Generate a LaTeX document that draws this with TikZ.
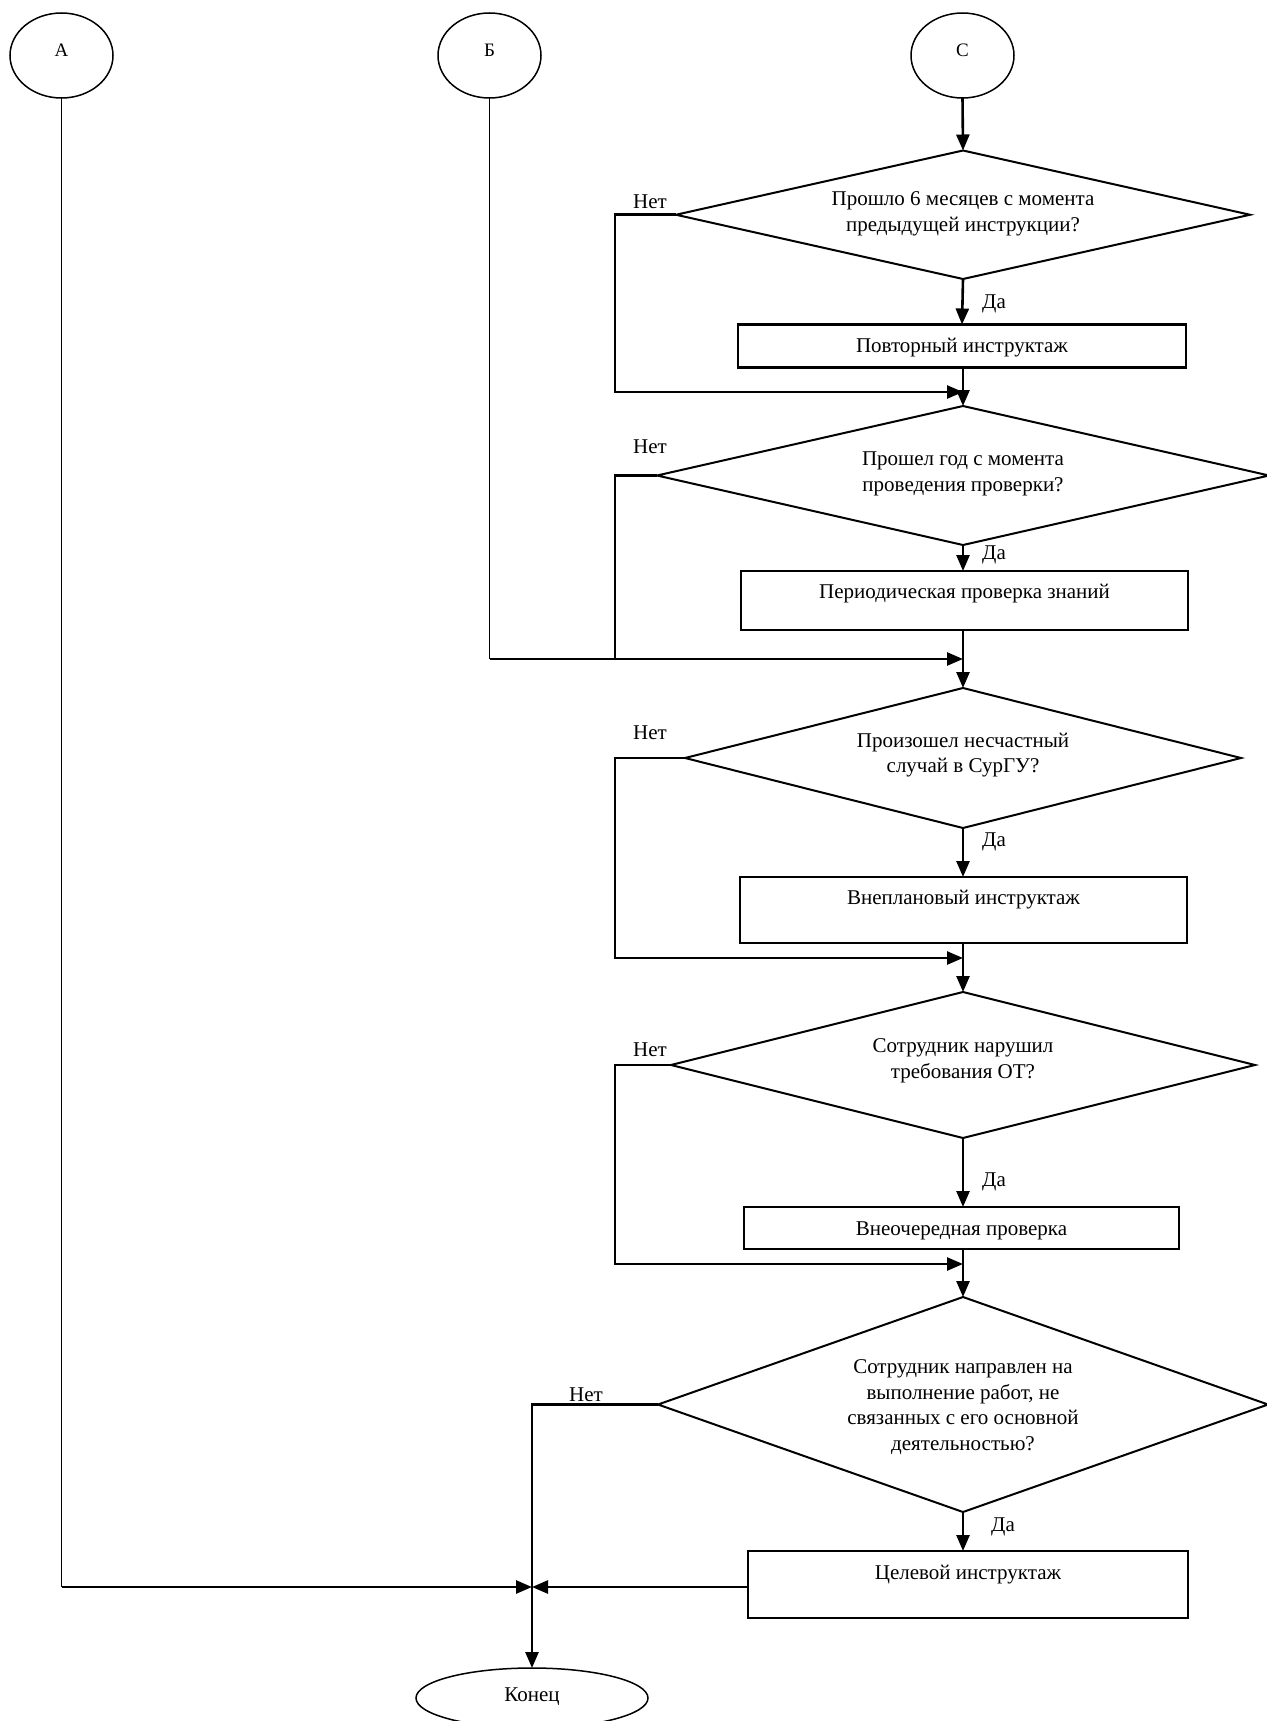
\documentclass[tikz,border=0pt]{standalone}
\usepackage{fontspec}
\setmainfont{Liberation Serif}
\usetikzlibrary{shapes.geometric,arrows.meta}
\begin{document}
\begin{tikzpicture}[x=1pt,y=-1pt,
  txt/.style={font=\fontsize{21}{25.5}\selectfont, align=center, inner sep=0},
  lbl/.style={font=\fontsize{21}{25.5}\selectfont, inner sep=0},
  dia/.style={draw, diamond, line width=2pt, inner sep=0, outer sep=0},
  boxn/.style={draw, rectangle, line width=2.3pt, inner sep=0, outer sep=0},
  ovl/.style={draw, ellipse, line width=1.5pt, inner sep=0, outer sep=0},
  conn/.style={line width=2.6pt},
  thinconn/.style={line width=1.4pt},
  arr/.style={-{Triangle[length=16pt,width=13pt]}}
]
\useasboundingbox (0,0) rectangle (1266,1721);
\fill[white] (0,0) rectangle (1266,1721);

% start ovals
\node[ovl, minimum width=103pt, minimum height=85pt] (A) at (61.5,55.5) {};
\node[ovl, minimum width=103pt, minimum height=85pt] (B) at (489.5,55.5) {};
\node[ovl, minimum width=103pt, minimum height=85pt] (C) at (962.5,55.5) {};
\node[lbl, font=\fontsize{19}{22}\selectfont] (tA) at (61.5,50) {А};
\node[lbl, font=\fontsize{19}{22}\selectfont] (tB) at (489.5,50) {Б};
\node[lbl, font=\fontsize{19}{22}\selectfont] (tC) at (962.5,50) {С};

% diamonds
\node[dia, minimum width=574pt, minimum height=128.5pt] (d1) at (963,214.75) {};
\node[txt] (t1) at (963,214) {Прошло 6 месяцев с момента\\предыдущей инструкции?};
\node[dia, minimum width=612pt, minimum height=139pt] (d2) at (963,475.5) {};
\node[txt] (t2) at (963,474) {Прошел год с момента\\проведения проверки?};
\node[dia, minimum width=556pt, minimum height=140pt] (d3) at (963,758) {};
\node[txt] (t3) at (963,755) {Произошел несчастный\\случай в СурГУ?};
\node[dia, minimum width=584pt, minimum height=146pt] (d4) at (963,1065) {};
\node[txt] (t4) at (963,1061) {Сотрудник нарушил\\требования ОТ?};
\node[dia, minimum width=610pt, minimum height=215pt] (d5) at (963,1404.5) {};
\node[txt] (t5) at (963,1407) {Сотрудник направлен на\\выполнение работ, не\\связанных с его основной\\деятельностью?};

% boxes
\node[boxn, minimum width=448pt, minimum height=43pt] (b1) at (962,346) {};
\node[txt] (bt1) at (962,348) {Повторный инструктаж};
\node[boxn, minimum width=447pt, minimum height=59pt] (b2) at (964.5,600.5) {};
\node[txt] (bt2) at (964.5,594) {Периодическая проверка знаний};
\node[boxn, minimum width=447pt, minimum height=66pt] (b3) at (963.5,910) {};
\node[txt] (bt3) at (963.5,900) {Внеплановый инструктаж};
\node[boxn, minimum width=435pt, minimum height=42pt] (b4) at (961.5,1228) {};
\node[txt] (bt4) at (961.5,1231) {Внеочередная проверка};
\node[boxn, minimum width=440pt, minimum height=67pt] (b5) at (968,1584.5) {};
\node[txt] (bt5) at (968,1575) {Целевой инструктаж};

% end oval
\node[ovl, minimum width=232pt, minimum height=60pt] (end) at (532,1698) {};
\node[lbl] (tend) at (532,1697) {Конец};

% labels
\node[lbl] (n1) at (650,202) {Нет};
\node[lbl] (n2) at (650,447) {Нет};
\node[lbl] (n3) at (650,733) {Нет};
\node[lbl] (n4) at (650,1050) {Нет};
\node[lbl] (n5) at (586,1395) {Нет};
\node[lbl] (y1) at (994,304) {Да};
\node[lbl] (y2) at (994,555) {Да};
\node[lbl] (y3) at (994,842) {Да};
\node[lbl] (y4) at (994,1182) {Да};
\node[lbl] (y5) at (1003,1527) {Да};

% helper coordinates
\coordinate (m1) at (963,392);
\coordinate (m2) at (963,659);
\coordinate (m3) at (963,958);
\coordinate (m4) at (963,1264);
\coordinate (mend) at (532,1587);
\coordinate (aC) at (61.5,1587);
\coordinate (bC) at (489.5,659);

% main line
\draw[conn,arr] (C.south) -- (d1.north);
\draw[conn,arr] (d1.south) -- (b1.north);
\draw[conn,arr] (b1.south -| d2.north) -- (d2.north);
\draw[conn,arr] (d2.south) -- (b2.north -| d2.south);
\draw[conn,arr] (b2.south -| d3.north) -- (d3.north);
\draw[conn,arr] (d3.south) -- (b3.north -| d3.south);
\draw[conn,arr] (b3.south -| d4.north) -- (d4.north);
\draw[conn,arr] (d4.south) -- (b4.north -| d4.south);
\draw[conn,arr] (b4.south -| d5.north) -- (d5.north);
\draw[conn,arr] (d5.south) -- (b5.north -| d5.south);

% "no" loops
\draw[conn,arr] (d1.west) -- (615,214.75) |- (m1);
\draw[conn] (d2.west) -- (615,475.5) -- (615,659);
\draw[conn,arr] (d3.west) -- (615,758) |- (m3);
\draw[conn,arr] (d4.west) -- (615,1065) |- (m4);
\draw[conn,arr] (d5.west) -- (532,1404.5) -- (end.north);

% A and B lines
\draw[thinconn] (A.south) -- (aC);
\draw[conn,arr] (aC) -- (mend);
\draw[thinconn] (B.south) -- (bC);
\draw[conn,arr] (bC) -- (m2);

% Target instruction to merge
\draw[conn,arr] (b5.west |- mend) -- (mend);
\end{tikzpicture}
\end{document}
